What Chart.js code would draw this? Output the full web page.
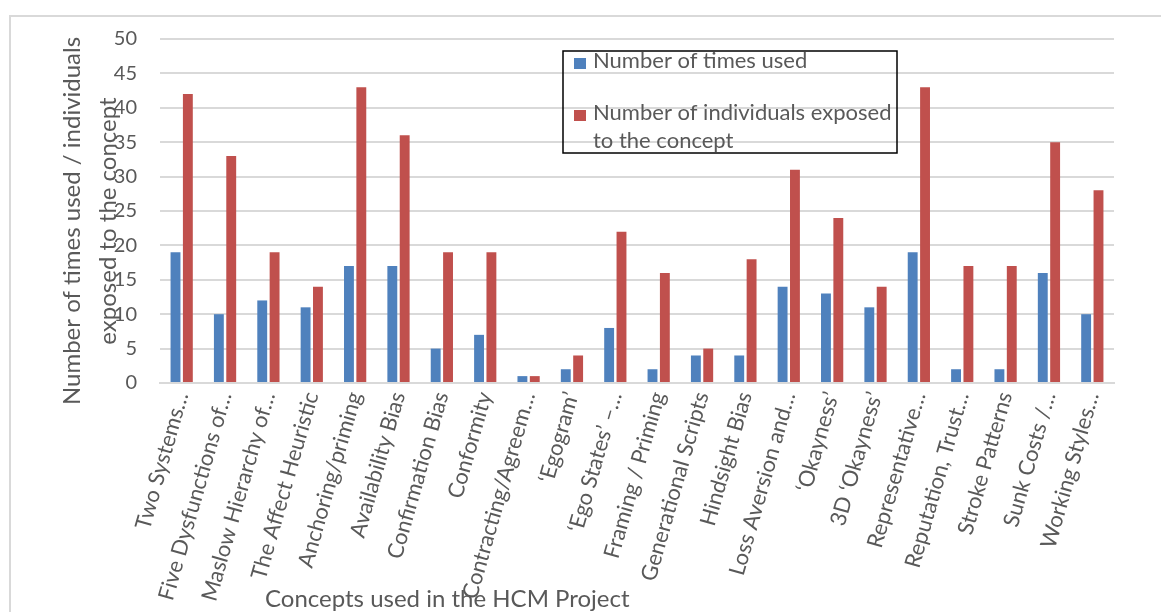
<!DOCTYPE html>
<html>
<head>
<meta charset="utf-8">
<script src="https://cdn.jsdelivr.net/npm/chart.js@4"></script>
<style>
  html, body { margin: 0; padding: 0; background: #fff; }
  #wrap { width: 1161px; height: 612px; position: relative; }
</style>
</head>
<body>
<div id="wrap"><canvas id="hcm-chart"></canvas></div>
<script>
const concepts = ["Two Systems\u2026", "Five Dysfunctions of\u2026", "Maslow Hierarchy of\u2026", "The Affect Heuristic",
  "Anchoring/priming", "Availability Bias", "Confirmation Bias", "Conformity", "Contracting/Agreem\u2026",
  "\u2018Egogram\u2019", "\u2018Ego States\u2019 \u2013\u2026", "Framing / Priming", "Generational Scripts", "Hindsight Bias",
  "Loss Aversion and\u2026", "\u2018Okayness\u2019", "3D \u2018Okayness\u2019", "Representative\u2026", "Reputation, Trust\u2026",
  "Stroke Patterns", "Sunk Costs /\u2026", "Working Styles\u2026"]
const timesUsed = [19, 10, 12, 11, 17, 17, 5, 7, 1, 2, 8, 2, 4, 4, 14, 13, 11, 19, 2, 2, 16, 10]
const individualsExposed = [42, 33, 19, 14, 43, 36, 19, 19, 1, 4, 22, 16, 5, 18, 31, 24, 14, 43, 17, 17, 35, 28]
const yTicks = [0, 5, 10, 15, 20, 25, 30, 35, 40, 45, 50]

const blue = '#4f81bd'
const red = '#c0504d'
const textGrey = '#595959'
const gridGrey = '#d9d9d9'
const fontFamily = 'Lato, "Open Sans", sans-serif'

const yTitle = ["Number of times used / individuals", "exposed to the concept"]
const xTitle = "Concepts used in the HCM Project"

// frame, axis titles and the boxed legend, drawn the way the spreadsheet did
const decorations = {
  id: 'decorations',
  beforeDraw(chart) {
    const ctx = chart.ctx
    ctx.save()
    ctx.strokeStyle = gridGrey
    ctx.lineWidth = 2
    ctx.strokeRect(10, 16, chart.width + 20, chart.height + 20)
    ctx.restore()
  },
  afterDraw(chart) {
    const ctx = chart.ctx
    const area = chart.chartArea
    ctx.save()
    ctx.fillStyle = textGrey

    // y title (overlaps the tick labels like the original)
    ctx.font = '24px ' + fontFamily
    ctx.textAlign = 'center'
    ctx.textBaseline = 'middle'
    const midY = (area.top + area.bottom) / 2 + 10
    ;[72, 108].forEach((x, i) => {
      ctx.save()
      ctx.translate(x, midY)
      ctx.rotate(-Math.PI / 2)
      ctx.fillText(yTitle[i], 0, 0)
      ctx.restore()
    })

    // x title
    ctx.textAlign = 'left'
    ctx.textBaseline = 'alphabetic'
    ctx.fillText(xTitle, 265, 607)

    // legend box
    const box = { x: 563, y: 51, w: 334, h: 102 }
    ctx.strokeStyle = '#000'
    ctx.lineWidth = 1.5
    ctx.strokeRect(box.x, box.y, box.w, box.h)
    ctx.font = '22px ' + fontFamily
    const maxW = 310
    let baseline = 68
    chart.data.datasets.forEach((ds, i) => {
      if (i > 0) baseline += 24
      ctx.fillStyle = ds.backgroundColor
      ctx.fillRect(574, baseline - 10, 12, 11)
      ctx.fillStyle = textGrey
      const words = ds.label.split(' ')
      let line = ''
      words.forEach(word => {
        const test = line ? line + ' ' + word : word
        if (ctx.measureText(test).width > maxW && line) {
          ctx.fillText(line, 593, baseline)
          line = word
          baseline += 28
        } else {
          line = test
        }
      })
      ctx.fillText(line, 593, baseline)
      baseline += 28
    })
    ctx.restore()
  }
}

Chart.defaults.font.family = fontFamily
Chart.defaults.color = textGrey

new Chart(document.getElementById('hcm-chart'), {
  type: 'bar',
  plugins: [decorations],
  data: {
    labels: concepts,
    datasets: [
      {
        label: "Number of times used",
        data: timesUsed,
        backgroundColor: blue,
        categoryPercentage: 0.57,
        barPercentage: 0.8
      },
      {
        label: "Number of individuals exposed to the concept",
        data: individualsExposed,
        backgroundColor: red,
        categoryPercentage: 0.57,
        barPercentage: 0.8
      }
    ]
  },
  options: {
    responsive: true,
    maintainAspectRatio: false,
    animation: false,
    layout: { padding: { top: 39, right: 47, bottom: 0, left: 0 } },
    plugins: {
      legend: { display: false },
      tooltip: { enabled: false }
    },
    scales: {
      x: {
        grid: { display: false, drawTicks: false },
        border: { color: gridGrey, width: 2 },
        ticks: {
          autoSkip: false,
          minRotation: 74,
          maxRotation: 74,
          padding: 6,
          font: { size: 22 },
          color: textGrey
        },
        afterFit: scale => { scale.height = 229 }
      },
      y: {
        min: 0,
        max: 50,
        afterBuildTicks: scale => { scale.ticks = yTicks.map(v => ({ value: v })) },
        grid: { color: gridGrey, lineWidth: 2, drawTicks: false },
        border: { display: false },
        ticks: {
          padding: 23,
          font: { size: 20 },
          color: textGrey
        },
        afterFit: scale => { scale.width = 160 }
      }
    }
  }
})
</script>
</body>
</html>
